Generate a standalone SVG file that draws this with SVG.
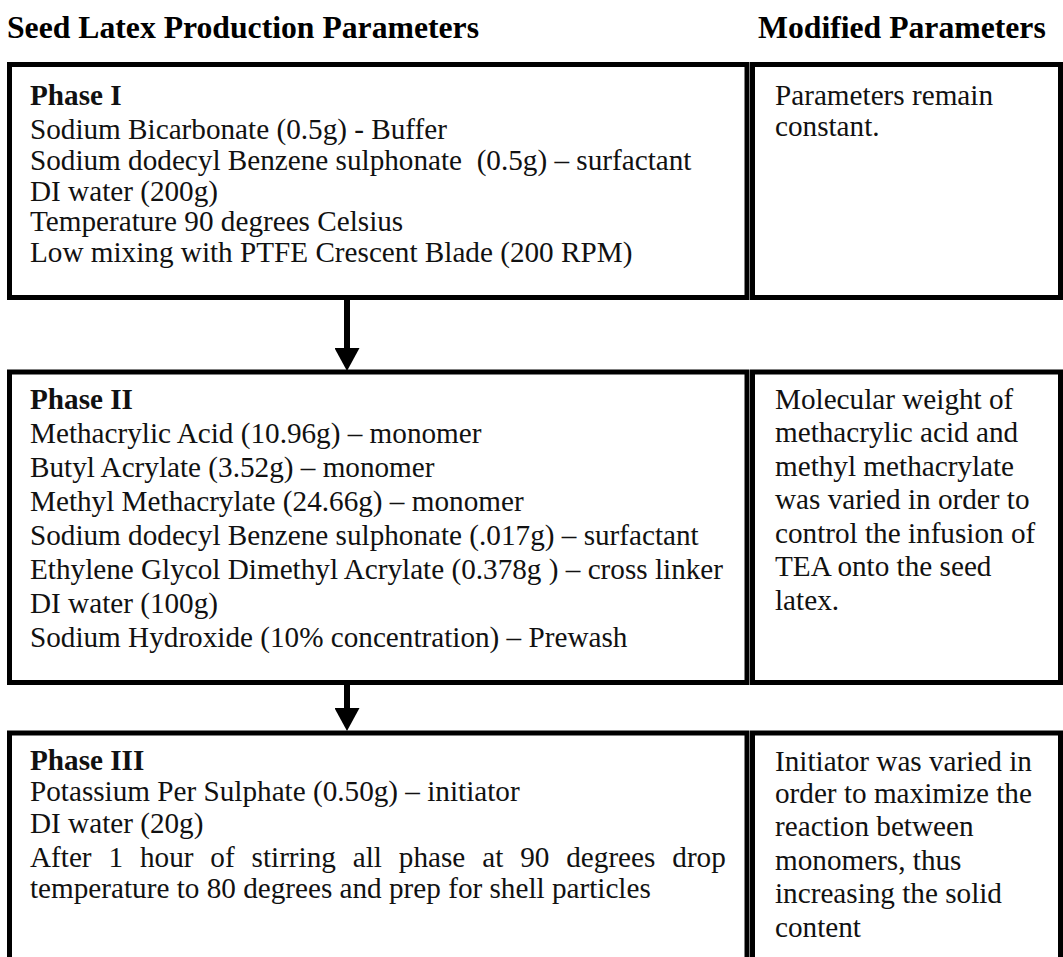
<svg xmlns="http://www.w3.org/2000/svg" width="1063" height="957" viewBox="0 0 1063 957">
<style>
.hdr{font-family:"Liberation Serif","Times New Roman",serif;font-weight:bold;font-size:31.7px;fill:#000}
.t{font-family:"Liberation Serif","Times New Roman",serif;font-size:29.2px;fill:#111;white-space:pre}
.b{font-weight:bold}
.box{fill:#fff;stroke:#000;stroke-width:5}
.conn{stroke:#000;stroke-width:6;fill:none}
</style>
<defs>
<marker id="ah" viewBox="0 0 23 25" refX="0" refY="12.5" markerWidth="23" markerHeight="25" markerUnits="userSpaceOnUse" orient="auto">
<path d="M0,0 L23,12.5 L0,25 z" fill="#000"/>
</marker>
</defs>
<rect width="1063" height="957" fill="#fff"/>
<text class="hdr" x="7" y="37.5">Seed Latex Production Parameters</text>
<text class="hdr" x="758" y="37.5">Modified Parameters</text>

<g id="phase1">
<rect class="box" x="9.5" y="64.5" width="737.5" height="233"/>
<text class="t b" x="30" y="105">Phase I</text>
<text class="t" x="30" y="138.5">Sodium Bicarbonate (0.5g) - Buffer</text>
<text class="t" x="30" y="169.5">Sodium dodecyl Benzene sulphonate  (0.5g) – surfactant</text>
<text class="t" x="30" y="200.5">DI water (200g)</text>
<text class="t" x="30" y="231">Temperature 90 degrees Celsius</text>
<text class="t" x="30" y="262">Low mixing with PTFE Crescent Blade (200 RPM)</text>
</g>
<g id="mod1">
<rect class="box" x="752.5" y="64.5" width="308" height="233"/>
<text class="t" x="775" y="105">Parameters remain</text>
<text class="t" x="775" y="136">constant.</text>
</g>

<g id="phase2">
<rect class="box" x="9.5" y="372" width="737.5" height="310.5"/>
<text class="t b" x="30" y="408.5">Phase II</text>
<text class="t" x="30" y="442.5">Methacrylic Acid (10.96g) – monomer</text>
<text class="t" x="30" y="476.5">Butyl Acrylate (3.52g) – monomer</text>
<text class="t" x="30" y="510.5">Methyl Methacrylate (24.66g) – monomer</text>
<text class="t" x="30" y="544.5">Sodium dodecyl Benzene sulphonate (.017g) – surfactant</text>
<text class="t" x="30" y="578.5">Ethylene Glycol Dimethyl Acrylate (0.378g ) – cross linker</text>
<text class="t" x="30" y="612.5">DI water (100g)</text>
<text class="t" x="30" y="646.5">Sodium Hydroxide (10% concentration) – Prewash</text>
</g>
<g id="mod2">
<rect class="box" x="752.5" y="372" width="308" height="310.5"/>
<text class="t" x="775" y="408.5">Molecular weight of</text>
<text class="t" x="775" y="442">methacrylic acid and</text>
<text class="t" x="775" y="475.5">methyl methacrylate</text>
<text class="t" x="775" y="509">was varied in order to</text>
<text class="t" x="775" y="542.5">control the infusion of</text>
<text class="t" x="775" y="576">TEA onto the seed</text>
<text class="t" x="775" y="609.5">latex.</text>
</g>

<g id="phase3">
<rect class="box" x="9.5" y="733" width="737.5" height="240"/>
<text class="t b" x="30" y="770">Phase III</text>
<text class="t" x="30" y="801">Potassium Per Sulphate (0.50g) – initiator</text>
<text class="t" x="30" y="833">DI water (20g)</text>
<text class="t" x="30" y="867" style="word-spacing:9.6px">After 1 hour of stirring all phase at 90 degrees drop</text>
<text class="t" x="30" y="898">temperature to 80 degrees and prep for shell particles</text>
</g>
<g id="mod3">
<rect class="box" x="752.5" y="733" width="308" height="240"/>
<text class="t" x="775" y="771">Initiator was varied in</text>
<text class="t" x="775" y="803">order to maximize the</text>
<text class="t" x="775" y="836">reaction between</text>
<text class="t" x="775" y="869.5">monomers, thus</text>
<text class="t" x="775" y="903">increasing the solid</text>
<text class="t" x="775" y="936.5">content</text>
</g>

<g id="connectors">
<line class="conn" x1="347" y1="300" x2="347" y2="348" marker-end="url(#ah)"/>
<line class="conn" x1="347" y1="685" x2="347" y2="708" marker-end="url(#ah)"/>
</g>
</svg>
